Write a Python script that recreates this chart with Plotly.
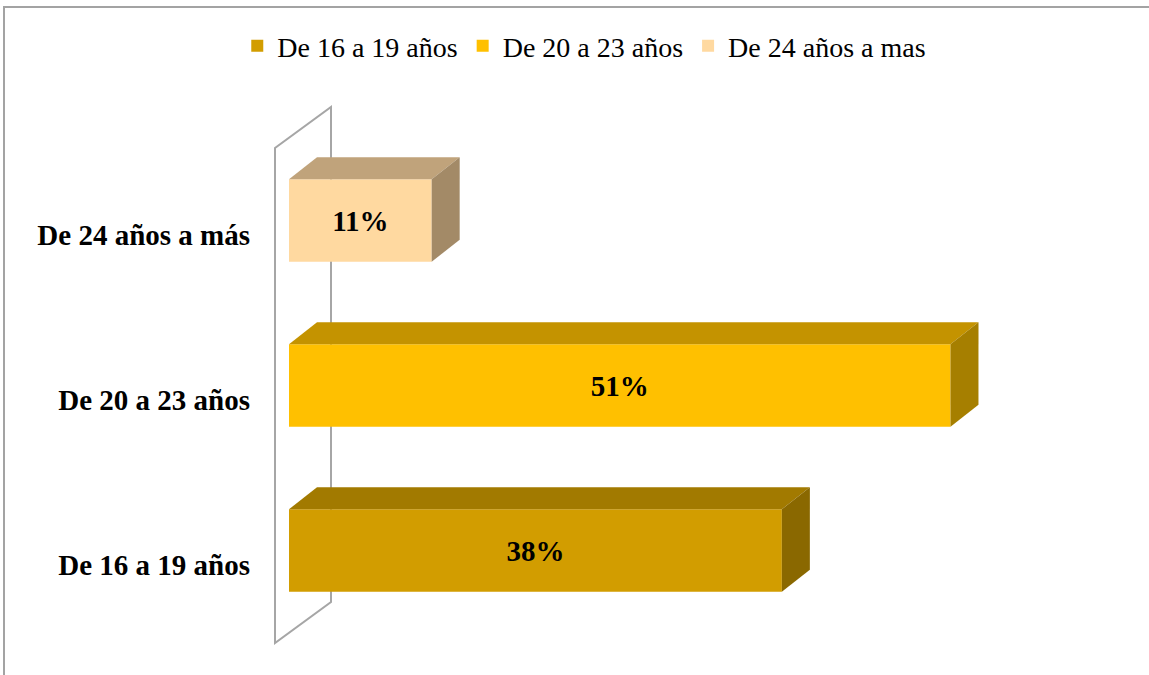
import plotly.graph_objects as go

# ---------------- data ----------------
categories = ["De 16 a 19 años", "De 20 a 23 años", "De 24 años a más"]
legend_names = ["De 16 a 19 años", "De 20 a 23 años", "De 24 años a mas"]
values = [38, 51, 11]
value_labels = ["38%", "51%", "11%"]

# ---------------- style ----------------
front_colors = ["#D29D00", "#FFC000", "#FFD9A0"]
top_colors = ["#A27A00", "#C49300", "#C0A37B"]
side_colors = ["#8A6800", "#A67F00", "#A38A67"]
wall_color = "#A6A6A6"
border_color = "#A3A3A3"
FONT = "Liberation Serif, Times New Roman, serif"

W, H = 1149, 675
L, R, T, B = 265, 40, 90, 15
PX_PER_X = 12.97      # pixels per percentage point
PX_PER_Y = 165.0      # pixels per category step
ZERO_PX = 289.0       # pixel column of value 0 on the bar fronts
CAT0_PX = 550.5       # pixel row of the first category (bar fronts)

plot_w = W - L - R
plot_h = H - T - B
x_range = [(L - ZERO_PX) / PX_PER_X, (W - R - ZERO_PX) / PX_PER_X]
y_range = [(CAT0_PX - (H - B)) / PX_PER_Y, (CAT0_PX - T) / PX_PER_Y]

BAR_W = 0.5
BAR_DX = 28 / PX_PER_X
BAR_DY = 22 / PX_PER_Y
WALL_FRONT_DX = -14 / PX_PER_X
WALL_BACK_DX = 42 / PX_PER_X
WALL_FRONT_DY = -10 / PX_PER_Y
WALL_BACK_DY = 31 / PX_PER_Y
LABEL_DY = -14 / PX_PER_Y

fig = go.Figure()
shapes = []

n = len(categories)
for i in range(n):
    v = values[i]
    fig.add_trace(go.Bar(
        x=[v], y=[i], orientation="h", width=BAR_W,
        name=legend_names[i],
        marker=dict(color=front_colors[i], line=dict(width=0)),
        text=[value_labels[i]], textposition="inside",
        insidetextanchor="middle",
        textfont=dict(family=FONT, size=29, color="black", weight="bold"),
        hoverinfo="skip",
    ))
    yt = i + BAR_W / 2
    yb = i - BAR_W / 2
    # top face
    shapes.append(dict(
        type="path", xref="x", yref="y", layer="above",
        path=f"M 0,{yt} L {v},{yt} L {v + BAR_DX},{yt + BAR_DY} L {BAR_DX},{yt + BAR_DY} Z",
        fillcolor=top_colors[i], line=dict(width=0),
    ))
    # side face
    shapes.append(dict(
        type="path", xref="x", yref="y", layer="above",
        path=f"M {v},{yb} L {v + BAR_DX},{yb + BAR_DY} L {v + BAR_DX},{yt + BAR_DY} L {v},{yt} Z",
        fillcolor=side_colors[i], line=dict(width=0),
    ))

# back wall (3D frame of the category axis)
ylo, yhi = -0.5, n - 0.5
shapes.append(dict(
    type="path", xref="x", yref="y", layer="below",
    path=(f"M {WALL_FRONT_DX},{ylo + WALL_FRONT_DY} L {WALL_FRONT_DX},{yhi + WALL_FRONT_DY} "
          f"L {WALL_BACK_DX},{yhi + WALL_BACK_DY} L {WALL_BACK_DX},{ylo + WALL_BACK_DY} Z"),
    line=dict(color=wall_color, width=2), fillcolor="rgba(0,0,0,0)",
))

# outer chart border
shapes.append(dict(
    type="rect", xref="paper", yref="paper", layer="below",
    x0=(4 - L) / plot_w, x1=(W + 20 - L) / plot_w,
    y0=(H - B - (H + 20)) / plot_h, y1=(H - B - 7) / plot_h,
    line=dict(color=border_color, width=2), fillcolor="rgba(0,0,0,0)",
))

fig.update_layout(
    width=W, height=H,
    margin=dict(l=L, r=R, t=T, b=B),
    paper_bgcolor="white", plot_bgcolor="white",
    barmode="overlay",
    shapes=shapes,
    showlegend=True,
    legend=dict(
        orientation="h", xref="container", yref="container",
        x=0.5085, xanchor="center", y=1 - 46 / H, yanchor="middle",
        font=dict(family=FONT, size=28, color="black"),
        traceorder="normal", itemwidth=30,
    ),
    xaxis=dict(range=x_range, visible=False, fixedrange=True),
    yaxis=dict(
        range=y_range, tickmode="array",
        tickvals=[i + LABEL_DY for i in range(n)], ticktext=categories,
        tickfont=dict(family=FONT, size=29, color="black", weight="bold"),
        showgrid=False, zeroline=False, showline=False, ticks="",
        ticklabelstandoff=14, fixedrange=True,
    ),
)

fig.write_html("out.html", config={"displayModeBar": False},
               post_script="document.body.style.margin='0';")
